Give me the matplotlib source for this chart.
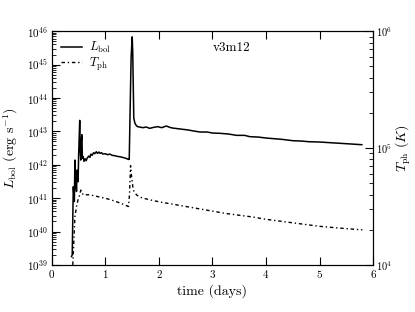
import matplotlib
matplotlib.use("Agg")
import matplotlib.pyplot as plt
import numpy as np

plt.rcParams['font.family'] = 'serif'
plt.rcParams['font.serif'] = ['cmr10']
plt.rcParams['mathtext.fontset'] = 'cm'
plt.rcParams['axes.unicode_minus'] = False
plt.rcParams['axes.formatter.use_mathtext'] = True

# bolometric luminosity, log10(erg/s)
lbol_days = [0.367, 0.38, 0.40, 0.42, 0.43, 0.44, 0.45, 0.46, 0.47, 0.48, 0.49, 0.50,
             0.51, 0.52, 0.53, 0.54, 0.55, 0.56, 0.57, 0.585, 0.60, 0.62, 0.64, 0.66,
             0.69, 0.71, 0.73, 0.75, 0.78, 0.80, 0.83, 0.85, 0.88, 0.90, 0.93, 0.95,
             1.00, 1.04, 1.08, 1.13, 1.18, 1.22, 1.27, 1.32, 1.37, 1.40, 1.43, 1.445,
             1.46, 1.48, 1.50, 1.51, 1.53, 1.55, 1.57, 1.60, 1.64, 1.70, 1.76, 1.83,
             1.90, 1.98, 2.05, 2.14, 2.20, 2.25, 2.35, 2.45, 2.55, 2.65, 2.77, 2.90,
             3.00, 3.15, 3.30, 3.45, 3.60, 3.70, 3.85, 4.00, 4.15, 4.30, 4.50, 4.65,
             4.80, 5.00, 5.20, 5.40, 5.60, 5.79]
lbol_log = [39.25, 39.3, 41.34, 40.9, 42.14, 41.3, 41.54, 41.2, 41.84, 41.6, 41.49, 42.3,
            42.8, 43.33, 42.4, 42.14, 42.7, 42.9, 42.2, 42.24, 42.1, 42.18, 42.12, 42.2,
            42.26, 42.22, 42.32, 42.28, 42.36, 42.33, 42.39, 42.34, 42.38, 42.34, 42.36, 42.32,
            42.33, 42.30, 42.32, 42.28, 42.27, 42.25, 42.24, 42.22, 42.2, 42.18, 42.16, 42.16,
            43.5, 45.2, 45.83, 45.4, 43.4, 43.25, 43.19, 43.14, 43.13, 43.11, 43.13, 43.09,
            43.12, 43.14, 43.11, 43.16, 43.12, 43.1, 43.08, 43.06, 43.04, 43.01, 42.98, 42.98,
            42.95, 42.94, 42.92, 42.88, 42.88, 42.84, 42.83, 42.8, 42.78, 42.76, 42.72, 42.71,
            42.69, 42.68, 42.66, 42.64, 42.62, 42.6]

# photospheric temperature, log10(K)
tph_days = [0.39, 0.41, 0.43, 0.46, 0.49, 0.52, 0.54, 0.585, 0.65, 0.71, 0.80, 0.90,
            1.00, 1.08, 1.18, 1.27, 1.35, 1.43, 1.45, 1.47, 1.49, 1.52, 1.58, 1.64,
            1.80, 2.00, 2.25, 2.50, 2.75, 3.00, 3.25, 3.50, 3.75, 4.00, 4.25, 4.50,
            4.75, 5.00, 5.25, 5.50, 5.80]
tph_log = [4.0, 4.2, 4.41, 4.5, 4.56, 4.6, 4.64, 4.60, 4.6, 4.60, 4.59, 4.58,
           4.57, 4.56, 4.545, 4.53, 4.515, 4.50, 4.6, 4.85, 4.75, 4.64, 4.6, 4.58,
           4.56, 4.54, 4.52, 4.50, 4.48, 4.46, 4.44, 4.425, 4.41, 4.39, 4.375, 4.36,
           4.345, 4.33, 4.32, 4.31, 4.30]

fig = plt.figure(figsize=(4.15, 3.12), dpi=100)
ax = fig.add_axes([0.125, 0.151, 0.774, 0.749])
ax2 = ax.twinx()

l1, = ax.plot(lbol_days, 10**np.array(lbol_log), 'k-', lw=1.1, label=r'$L_{\rm bol}$')
l2, = ax2.plot(tph_days, 10**np.array(tph_log), 'k', ls=(0, (2.5, 2, 1, 2)), lw=1.0,
               label=r'$T_{\rm ph}$')

ax.set_yscale('log')
ax2.set_yscale('log')
ax.set_xlim(0, 6)
ax.set_ylim(1e39, 1e46)
ax2.set_ylim(1e4, 1e6)

ax.set_xlabel('time (days)', fontsize=10, labelpad=3)
ax.set_ylabel(r'$L_{\rm bol}$ (erg s$^{-1}$)', fontsize=10)
ax2.set_ylabel(r'$T_{\rm ph}$ ($K$)', fontsize=10)
ax.yaxis.set_label_coords(-0.10, 0.5)
ax2.yaxis.set_label_coords(1.065, 0.5)

ax.tick_params(which='both', direction='in', top=True, labelsize=8)
ax.tick_params(which='major', length=6, pad=2.5)
ax.tick_params(which='minor', length=3)
ax2.tick_params(which='both', direction='in', labelsize=7.5)
ax2.tick_params(which='major', length=6, pad=2)
ax2.tick_params(which='minor', length=3)
ax.set_xticks([0, 1, 2, 3, 4, 5, 6])

ax.text(0.50, 0.93, 'v3m12', transform=ax.transAxes, fontsize=9.5, ha='left', va='center')
ax.legend([l1, l2], [l1.get_label(), l2.get_label()], loc='upper left', frameon=False,
          fontsize=9, handlelength=1.7, handletextpad=0.6, borderaxespad=0.3,
          labelspacing=0.05)

fig.savefig('out.png', dpi=100)
